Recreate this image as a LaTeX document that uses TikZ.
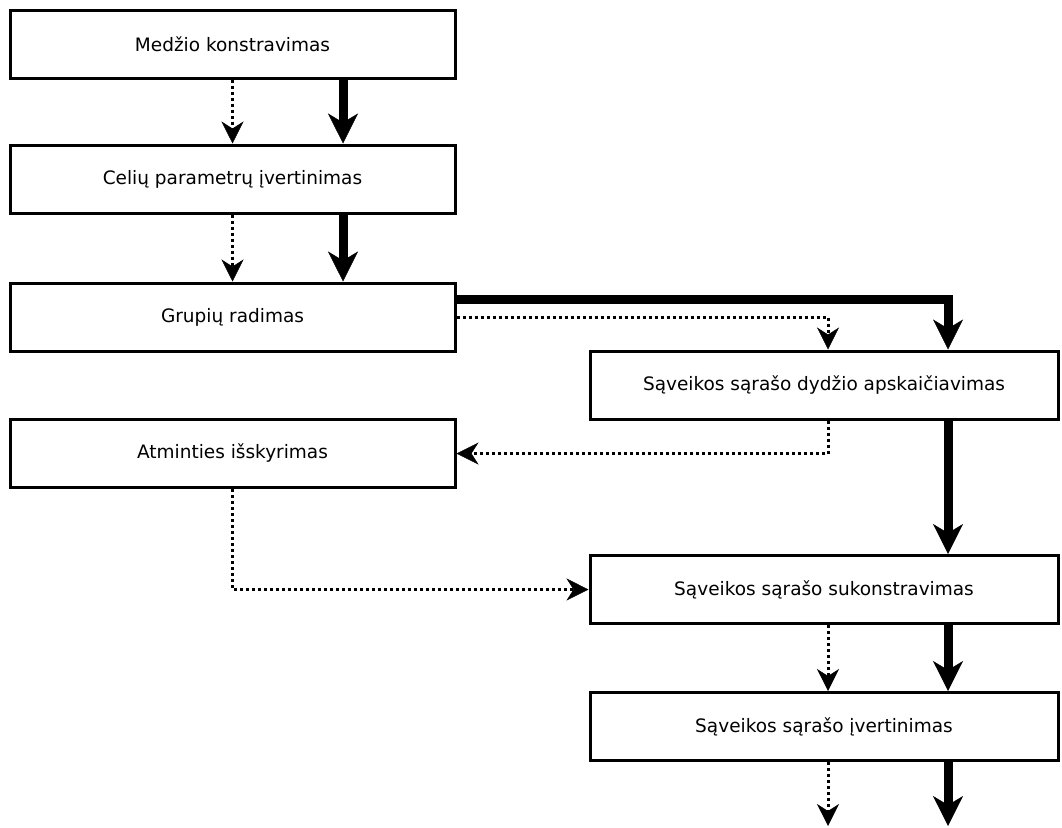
\documentclass[tikz,border=0pt]{standalone}
\usepackage{fontspec}
\setmainfont{DejaVu Sans}
\usetikzlibrary{arrows.meta}

\tikzset{
  stage/.style={draw=black, line width=3pt, fill=white, inner sep=0pt,
    minimum height=68pt, font=\fontsize{18.5}{22}\selectfont},
  leftstage/.style={stage, minimum width=445pt},
  rightstage/.style={stage, minimum width=468pt},
  dataflow/.style={line width=3pt, dash pattern=on 3pt off 3pt,
    -{Stealth[length=22pt, width=22pt, inset=7pt, line width=0.5pt]}},
  ctrlflow/.style={line width=9pt,
    -{Stealth[length=30pt, width=30pt, inset=9pt, line width=0.5pt]}},
}

\begin{document}
\begin{tikzpicture}[x=1pt, y=-1pt]
  \useasboundingbox (0,0) rectangle (1062,827);

  % processing stages
  \node[leftstage]  (b1) at (232.5,44)   {Medžio konstravimas};
  \node[leftstage]  (b2) at (232.5,179)  {Celių parametrų įvertinimas};
  \node[leftstage]  (b3) at (232.5,317)  {Grupių radimas};
  \node[rightstage] (b4) at (824,385)    {Sąveikos sąrašo dydžio apskaičiavimas};
  \node[leftstage]  (b5) at (232.5,453.5){Atminties išskyrimas};
  \node[rightstage] (b6) at (824,589.5)  {Sąveikos sąrašo sukonstravimas};
  \node[rightstage] (b7) at (824,726.5)  {Sąveikos sąrašo įvertinimas};

  % columns of the connectors
  \coordinate (Lthick) at (343,0);
  \coordinate (Rdot)   at (828,0);
  \coordinate (Rthick) at (948,0);
  \coordinate (outD)   at (828,826);
  \coordinate (outT)   at (948,826);

  % left column
  \draw[dataflow] (b1.south) -- (b2.north);
  \draw[ctrlflow] (b1.south -| Lthick) -- (b2.north -| Lthick);
  \draw[dataflow] (b2.south) -- (b3.north);
  \draw[ctrlflow] (b2.south -| Lthick) -- (b3.north -| Lthick);

  % across to the right column
  \draw[ctrlflow] ([yshift=18pt]b3.east) -| (b4.north -| Rthick);
  \draw[dataflow] (b3.east) -| (b4.north -| Rdot);

  % memory allocation loop
  \draw[dataflow] (b4.south -| Rdot) |- (b5.east);
  \draw[dataflow] (b5.south) |- (b6.west);
  \draw[ctrlflow] (b4.south -| Rthick) -- (b6.north -| Rthick);

  % right column
  \draw[dataflow] (b6.south -| Rdot) -- (b7.north -| Rdot);
  \draw[ctrlflow] (b6.south -| Rthick) -- (b7.north -| Rthick);
  \draw[dataflow] (b7.south -| Rdot) -- (outD);
  \draw[ctrlflow] (b7.south -| Rthick) -- (outT);
\end{tikzpicture}
\end{document}
